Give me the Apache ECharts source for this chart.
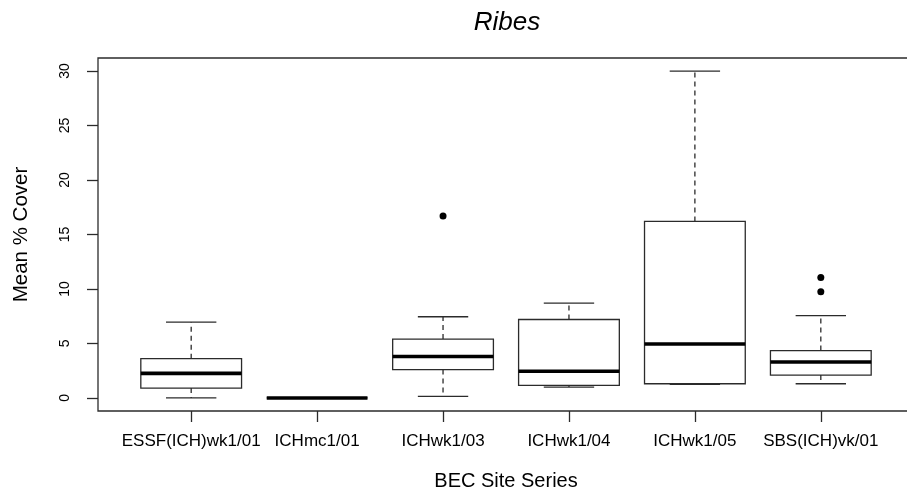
<!DOCTYPE html>
<html>
<head>
<meta charset="utf-8">
<script src="https://cdn.jsdelivr.net/npm/echarts@6/dist/echarts.min.js"></script>
<style>
  html, body { margin: 0; padding: 0; background: #fff; overflow: hidden; }
  #chart { width: 907px; height: 491px; }
</style>
</head>
<body>
<div id="chart"></div>
<script>
// Site series and five-number summaries of mean % cover
const categories = ['ESSF(ICH)wk1/01', 'ICHmc1/01', 'ICHwk1/03', 'ICHwk1/04', 'ICHwk1/05', 'SBS(ICH)vk/01'];
const lowerWhisker = [0, 0, 0.15, 1.0, 1.25, 1.3];
const q1 = [0.9, 0, 2.6, 1.15, 1.3, 2.1];
const median = [2.25, 0, 3.8, 2.45, 4.95, 3.3];
const q3 = [3.6, 0, 5.4, 7.2, 16.2, 4.35];
const upperWhisker = [6.95, 0, 7.45, 8.7, 30, 7.55];

// Points beyond the whiskers: category index and value
const outlierIndex = [2, 5, 5];
const outlierValue = [16.7, 11.05, 9.75];

const yTicks = [0, 5, 10, 15, 20, 25, 30];

const positions = categories.map((_, i) => i + 1);
const boxData = categories.map((_, i) => [i + 1, lowerWhisker[i], q1[i], median[i], q3[i], upperWhisker[i]]);
const outlierData = outlierIndex.map((c, k) => [c + 1, outlierValue[k]]);

const lineColor = '#2b2b2b';
const boxHalf = 0.4;
const capHalf = 0.2;
const font = 'Liberation Sans, Arial, sans-serif';

function renderBox(params, api) {
  const x = api.value(0);
  const lo = api.value(1), b1 = api.value(2), md = api.value(3), b3 = api.value(4), hi = api.value(5);
  const p = (xx, yy) => api.coord([xx, yy]);
  const seg = (a, b, style) => ({
    type: 'line',
    shape: { x1: a[0], y1: a[1], x2: b[0], y2: b[1] },
    style: Object.assign({ stroke: lineColor, lineWidth: 1.3 }, style || {})
  });
  const dashed = { lineDash: [5, 4] };
  const tl = p(x - boxHalf, b3), br = p(x + boxHalf, b1);
  return {
    type: 'group',
    children: [
      seg(p(x, b3), p(x, hi), dashed),
      seg(p(x, b1), p(x, lo), dashed),
      seg(p(x - capHalf, hi), p(x + capHalf, hi)),
      seg(p(x - capHalf, lo), p(x + capHalf, lo)),
      {
        type: 'rect',
        shape: { x: tl[0], y: tl[1], width: br[0] - tl[0], height: br[1] - tl[1] },
        style: { fill: '#fff', stroke: lineColor, lineWidth: 1.3 }
      },
      seg(p(x - boxHalf, md), p(x + boxHalf, md), { stroke: '#000', lineWidth: 3.6 })
    ]
  };
}

const chart = echarts.init(document.getElementById('chart'), null, { renderer: 'canvas' });
chart.setOption({
  animation: false,
  backgroundColor: '#fff',
  textStyle: { fontFamily: font },
  title: {
    text: 'Ribes',
    left: 502,
    top: 5,
    textAlign: 'center',
    textStyle: { fontSize: 26, fontStyle: 'italic', fontWeight: 'normal', color: '#000', fontFamily: font }
  },
  grid: {
    left: 98, top: 58, width: 816, height: 353,
    outerBoundsMode: 'none',
    containLabel: false,
    show: true, borderColor: lineColor, borderWidth: 1.3, backgroundColor: 'transparent'
  },
  xAxis: {
    type: 'value', min: 0.26, max: 6.74,
    name: 'BEC Site Series', nameLocation: 'middle', nameGap: 60,
    nameTextStyle: { fontSize: 20, color: '#000' },
    axisLine: { show: false, onZero: false },
    splitLine: { show: false },
    axisTick: { show: true, length: 11, customValues: positions, lineStyle: { color: lineColor, width: 1.3 } },
    axisLabel: {
      customValues: positions, margin: 22, fontSize: 17, color: '#000',
      formatter: v => categories[Math.round(v) - 1] || ''
    }
  },
  yAxis: {
    type: 'value', min: -1.2, max: 31.2,
    name: 'Mean % Cover', nameLocation: 'middle', nameRotate: 90, nameGap: 66,
    nameTextStyle: { fontSize: 20.5, color: '#000' },
    axisLine: { show: false, onZero: false },
    splitLine: { show: false },
    axisTick: { show: true, length: 11, customValues: yTicks, lineStyle: { color: lineColor, width: 1.3 } },
    axisLabel: { customValues: yTicks, rotate: 90, margin: 26, fontSize: 14, color: '#000' }
  },
  series: [
    {
      type: 'custom',
      renderItem: renderBox,
      encode: { x: 0, y: [1, 2, 3, 4, 5] },
      data: boxData,
      clip: false
    },
    {
      type: 'scatter',
      data: outlierData,
      symbol: 'circle',
      symbolSize: 7,
      itemStyle: { color: '#000', opacity: 1 }
    }
  ]
});
</script>
</body>
</html>
